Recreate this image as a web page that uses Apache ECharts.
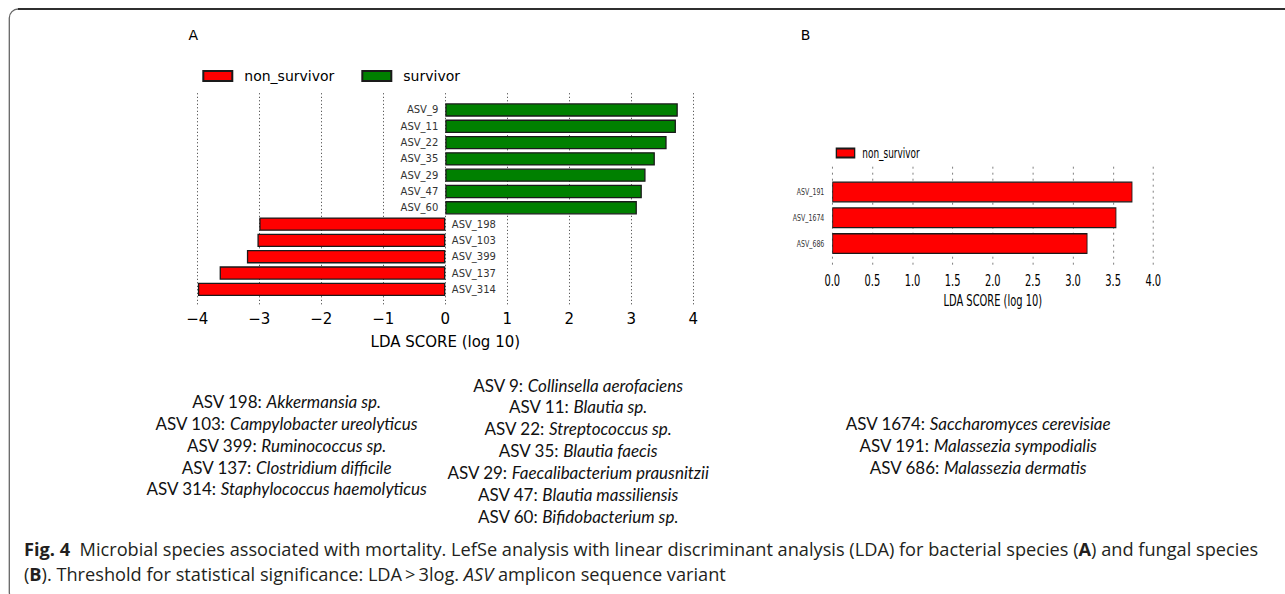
<!DOCTYPE html>
<html>
<head>
<meta charset="utf-8">
<script src="https://cdn.jsdelivr.net/npm/echarts@6/dist/echarts.min.js"></script>
<style>
  html, body { margin: 0; padding: 0; background: #fff; }
  #main { position: absolute; left: 0; top: 0; width: 1285px; height: 594px; }
  #panelB { position: absolute; left: 780px; top: 0; width: 700px; height: 594px; transform: scaleX(0.66); transform-origin: 0 0; }
</style>
</head>
<body>
<div id="main"></div>
<div id="panelB"></div>
<script>
// ---------- DATA ----------
const bacteriaCategories = ['ASV_9', 'ASV_11', 'ASV_22', 'ASV_35', 'ASV_29', 'ASV_47', 'ASV_60',
                            'ASV_198', 'ASV_103', 'ASV_399', 'ASV_137', 'ASV_314'];
const survivorNames = ['ASV_9', 'ASV_11', 'ASV_22', 'ASV_35', 'ASV_29', 'ASV_47', 'ASV_60'];
const survivorLDA = [3.75, 3.72, 3.57, 3.38, 3.23, 3.17, 3.09];
const nonSurvivorNames = ['ASV_198', 'ASV_103', 'ASV_399', 'ASV_137', 'ASV_314'];
const nonSurvivorLDA = [-3.00, -3.03, -3.20, -3.64, -3.99];

const fungalCategories = ['ASV_191', 'ASV_1674', 'ASV_686'];
const fungalLDA = [3.74, 3.54, 3.18];

const legendNames = ['non_survivor', 'survivor'];
const axisTitle = 'LDA SCORE (log 10)';

const speciesNonSurvivor = [
  ['ASV 198: ', 'Akkermansia sp.'],
  ['ASV 103: ', 'Campylobacter ureolyticus'],
  ['ASV 399: ', 'Ruminococcus sp.'],
  ['ASV 137: ', 'Clostridium difficile'],
  ['ASV 314: ', 'Staphylococcus haemolyticus']
];
const speciesSurvivor = [
  ['ASV 9: ', 'Collinsella aerofaciens'],
  ['ASV 11: ', 'Blautia sp.'],
  ['ASV 22: ', 'Streptococcus sp.'],
  ['ASV 35: ', 'Blautia faecis'],
  ['ASV 29: ', 'Faecalibacterium prausnitzii'],
  ['ASV 47: ', 'Blautia massiliensis'],
  ['ASV 60: ', 'Bifidobacterium sp.']
];
const speciesFungal = [
  ['ASV 1674: ', 'Saccharomyces cerevisiae'],
  ['ASV 191: ', 'Malassezia sympodialis'],
  ['ASV 686: ', 'Malassezia dermatis']
];
const captionLine1 = '{b|Fig. 4}{n|  Microbial species associated with mortality. LefSe analysis with linear discriminant analysis (LDA) for bacterial species (}{b|A}{n|) and fungal species}';
const captionLine2 = '{n|(}{b|B}{n|). Threshold for statistical significance: LDA\u2009>\u20093log. }{i|ASV}{n| amplicon sequence variant}';

// ---------- STYLE ----------
const MPL = 'DejaVu Sans';
const TXT = 'Lato';
const CAP = 'Open Sans';
const RED = '#ff0000', GREEN = '#008000', EDGE = '#1a1a1a';
const gridLineA = { show: true, lineStyle: { color: '#333', type: [1, 2.5], width: 1 } };
const gridLineB = { show: true, lineStyle: { color: '#666', type: [2, 4], width: 1 } };
const minusFmt = v => (v < 0 ? '\u2212' + Math.abs(v) : String(v));

// ---------- PANEL A ----------
const survivorData = bacteriaCategories.map(c => {
  const i = survivorNames.indexOf(c); return i >= 0 ? survivorLDA[i] : '-';
});
const nonSurvivorData = bacteriaCategories.map(c => {
  const i = nonSurvivorNames.indexOf(c); return i >= 0 ? nonSurvivorLDA[i] : '-';
});

const graphics = [];
graphics.push({ type: 'rect', shape: { x: 9.3, y: 9, width: 1400, height: 592, r: 9 },
  style: { fill: 'none', stroke: '#666', lineWidth: 1.3 }, silent: true });
graphics.push({ type: 'polyline', shape: { points: [[18, 9], [1285, 9]] },
  style: { stroke: '#111', lineWidth: 1.3 }, silent: true });
graphics.push({ type: 'text', style: { x: 193.3, y: 35, text: 'A', fontFamily: MPL, fontSize: 14, fill: '#000', align: 'center', verticalAlign: 'middle' } });
graphics.push({ type: 'text', style: { x: 805.5, y: 35, text: 'B', fontFamily: MPL, fontSize: 14, fill: '#000', align: 'center', verticalAlign: 'middle' } });

const SPF = 17;
const spRich = {
  n: { fontFamily: TXT, fontSize: SPF, fill: '#111' },
  i: { fontFamily: TXT, fontSize: SPF, fontStyle: 'italic', fill: '#111' }
};
function speciesBlock(list, cx, y0, dy) {
  list.forEach((s, k) => {
    graphics.push({ type: 'text', style: {
      x: cx, y: y0 + dy * k, text: '{n|' + s[0] + '}{i|' + s[1] + '}', rich: spRich,
      fontFamily: TXT, fontSize: SPF, align: 'center', verticalAlign: 'middle' } });
  });
}
speciesBlock(speciesNonSurvivor, 286.5, 401.7, 21.8);
speciesBlock(speciesSurvivor, 578, 385, 21.9);
speciesBlock(speciesFungal, 978, 423.5, 21.8);

const CPF = 18.2;
const capRich = {
  n: { fontFamily: CAP, fontSize: CPF, fill: '#231f20' },
  b: { fontFamily: CAP, fontSize: CPF, fontWeight: 'bold', fill: '#231f20' },
  i: { fontFamily: CAP, fontSize: CPF, fontStyle: 'italic', fill: '#231f20' }
};
graphics.push({ type: 'text', style: { x: 24, y: 549, text: captionLine1, rich: capRich, fontFamily: CAP, fontSize: CPF, align: 'left', verticalAlign: 'middle' } });
graphics.push({ type: 'text', style: { x: 24, y: 574, text: captionLine2, rich: capRich, fontFamily: CAP, fontSize: CPF, align: 'left', verticalAlign: 'middle' } });

const chartA = echarts.init(document.getElementById('main'), null, { renderer: 'svg' });
chartA.setOption({
  animation: false,
  backgroundColor: '#fff',
  legend: {
    data: legendNames, left: 202.3, top: 69, padding: 0,
    itemWidth: 29, itemHeight: 10, itemGap: 27, icon: 'rect',
    textStyle: { fontFamily: MPL, fontSize: 14, color: '#000', padding: [0, 0, 0, 7] }
  },
  grid: [
    { left: 197.3, width: 496, top: 101.8, height: 195.7 },
    { left: 197.3, width: 496, top: 93.3, height: 211.7 }
  ],
  xAxis: [
    { type: 'value', gridIndex: 0, min: -4, max: 4, interval: 1, show: false },
    { type: 'value', gridIndex: 1, min: -4, max: 4, interval: 1,
      axisLine: { show: false }, axisTick: { show: false }, splitLine: gridLineA,
      axisLabel: { fontFamily: MPL, fontSize: 15, color: '#000', margin: 6, formatter: minusFmt },
      name: axisTitle, nameLocation: 'middle', nameGap: 29,
      nameTextStyle: { fontFamily: MPL, fontSize: 15, color: '#000' } }
  ],
  yAxis: [
    { type: 'category', gridIndex: 0, data: bacteriaCategories, inverse: true, show: false },
    { type: 'value', gridIndex: 1, show: false }
  ],
  series: [
    { name: 'non_survivor', type: 'bar', xAxisIndex: 0, yAxisIndex: 0, data: nonSurvivorData,
      barCategoryGap: '18%', barGap: '-100%',
      itemStyle: { color: RED, borderColor: EDGE, borderWidth: 1.3 },
      label: { show: true, position: 'right', distance: 6.5, formatter: '{b}', fontFamily: MPL, fontSize: 10, color: '#333' } },
    { name: 'survivor', type: 'bar', xAxisIndex: 0, yAxisIndex: 0, data: survivorData,
      barCategoryGap: '18%', barGap: '-100%',
      itemStyle: { color: GREEN, borderColor: EDGE, borderWidth: 1.3 },
      label: { show: true, position: 'left', distance: 7, formatter: '{b}', fontFamily: MPL, fontSize: 10, color: '#333' } }
  ],
  graphic: graphics
});

// ---------- PANEL B (horizontally compressed like the reference) ----------
const chartB = echarts.init(document.getElementById('panelB'), null, { renderer: 'svg' });
chartB.setOption({
  animation: false,
  legend: {
    data: ['non_survivor'], left: 84.4, top: 146, padding: 0,
    itemWidth: 27.7, itemHeight: 9, icon: 'rect',
    textStyle: { fontFamily: MPL, fontSize: 13.5, color: '#000', padding: [0, 0, 0, 6.7] }
  },
  grid: [
    { left: 79.2, width: 486.4, top: 179.1, height: 77.4 },
    { left: 79.2, width: 486.4, top: 166.7, height: 100 }
  ],
  xAxis: [
    { type: 'value', gridIndex: 0, min: 0, max: 4, interval: 0.5, show: false },
    { type: 'value', gridIndex: 1, min: 0, max: 4, interval: 0.5,
      axisLine: { show: false }, axisTick: { show: false }, splitLine: gridLineB,
      axisLabel: { fontFamily: MPL, fontSize: 15, color: '#000', margin: 6, formatter: v => v.toFixed(1) },
      name: axisTitle, nameLocation: 'middle', nameGap: 26,
      nameTextStyle: { fontFamily: MPL, fontSize: 15, color: '#000' } }
  ],
  yAxis: [
    { type: 'category', gridIndex: 0, data: fungalCategories, inverse: true,
      axisLine: { show: false }, axisTick: { show: false },
      axisLabel: { fontFamily: MPL, fontSize: 9.5, color: '#333', margin: 12 } },
    { type: 'value', gridIndex: 1, show: false }
  ],
  series: [
    { name: 'non_survivor', type: 'bar', xAxisIndex: 0, yAxisIndex: 0, data: fungalLDA,
      barCategoryGap: '18.6%',
      itemStyle: { color: RED, borderColor: EDGE, borderWidth: 1.3 } }
  ]
});
</script>
</body>
</html>
